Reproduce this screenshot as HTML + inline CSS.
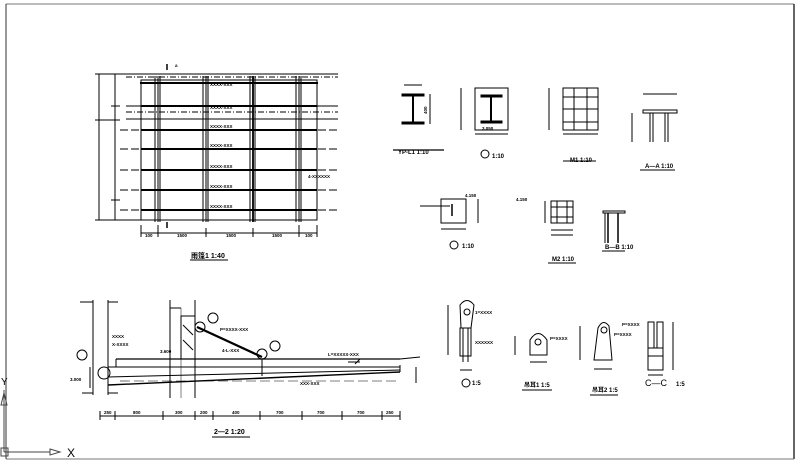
<!DOCTYPE html>
<html><head><meta charset="utf-8"><style>
html,body{margin:0;padding:0;background:#fff;}
svg{display:block;}
text{font-family:"Liberation Sans","Noto Sans CJK SC",sans-serif;fill:#000;font-weight:bold;}
</style></head><body>
<svg width="800" height="463" viewBox="0 0 800 463" xmlns="http://www.w3.org/2000/svg">
<g stroke="#000" fill="none" stroke-width="1">
<line x1="6" y1="4" x2="794" y2="4" stroke="#777"/>
<line x1="794" y1="4" x2="794" y2="459" stroke="#333" stroke-width="1.5"/>
<line x1="6" y1="459" x2="794" y2="459" stroke="#777"/>
<line x1="6" y1="4" x2="6" y2="459" stroke="#333"/>
<line x1="4" y1="390" x2="4" y2="452" stroke="#444"/>
<line x1="4" y1="452" x2="50" y2="452" stroke="#444"/>
<polygon points="1,405 4,393 7,405" stroke="#444"/>
<polygon points="50,449 60,452 50,455" stroke="#444"/>
<rect x="1" y="448" width="7" height="8" stroke="#444"/>
</g>
<text x="67" y="457" font-size="12" fill="#555" style="font-weight:normal">X</text>
<text x="1" y="385" font-size="10" fill="#555" style="font-weight:normal">Y</text>

<g stroke="#000" fill="none" stroke-width="1">
<line x1="126" y1="74" x2="338" y2="74"/>
<line x1="126" y1="77" x2="338" y2="77" stroke-dasharray="6,2,1,2"/>
<line x1="126" y1="106" x2="338" y2="106"/>
<line x1="126" y1="119" x2="338" y2="119"/>
<line x1="126" y1="112" x2="338" y2="112" stroke-dasharray="6,2,1,2"/>
<rect x="141" y="80" width="176" height="140"/>
<g stroke-width="2">
<line x1="140" y1="83" x2="318" y2="83"/>
<line x1="141" y1="106" x2="317" y2="106"/>
<line x1="141" y1="130" x2="317" y2="130"/>
<line x1="141" y1="149" x2="317" y2="149"/>
<line x1="141" y1="170" x2="317" y2="170"/>
<line x1="141" y1="190" x2="317" y2="190"/>
<line x1="141" y1="210" x2="317" y2="210"/>
</g>
<g>
<line x1="120" y1="130" x2="340" y2="130" stroke-dasharray="8,3"/>
<line x1="120" y1="149" x2="340" y2="149" stroke-dasharray="8,3"/>
<line x1="120" y1="170" x2="340" y2="170" stroke-dasharray="8,3"/>
<line x1="120" y1="190" x2="340" y2="190" stroke-dasharray="8,3"/>
<line x1="120" y1="210" x2="340" y2="210" stroke-dasharray="8,3"/>
</g>
<g stroke-width="1">
<line x1="155" y1="76" x2="155" y2="222"/><line x1="158" y1="76" x2="158" y2="222"/><line x1="160" y1="76" x2="160" y2="222"/>
<line x1="203" y1="76" x2="203" y2="222"/><line x1="206" y1="76" x2="206" y2="222"/><line x1="208" y1="76" x2="208" y2="222"/>
<line x1="250" y1="76" x2="250" y2="222"/><line x1="253" y1="76" x2="253" y2="222" stroke-width="1.8"/><line x1="255" y1="76" x2="255" y2="222"/>
<line x1="296" y1="76" x2="296" y2="222"/><line x1="299" y1="76" x2="299" y2="222"/><line x1="301" y1="76" x2="301" y2="222"/>
</g>
<line x1="99" y1="74" x2="99" y2="220"/><line x1="115" y1="74" x2="115" y2="220"/>
<line x1="95" y1="74" x2="135" y2="74"/><line x1="95" y1="120" x2="120" y2="120"/>
<line x1="95" y1="220" x2="141" y2="220"/><line x1="111" y1="106" x2="120" y2="106"/>
<line x1="111" y1="200" x2="120" y2="200"/>
<line x1="141" y1="233" x2="317" y2="233"/>
<line x1="141" y1="225" x2="141" y2="237"/><line x1="158" y1="225" x2="158" y2="237"/>
<line x1="206" y1="228" x2="206" y2="237"/><line x1="253" y1="228" x2="253" y2="237"/>
<line x1="299" y1="225" x2="299" y2="237"/><line x1="317" y1="225" x2="317" y2="237"/>
<line x1="167" y1="64" x2="167" y2="70" stroke-width="1.5"/>
<line x1="167" y1="222" x2="167" y2="228" stroke-width="1.5"/>
<line x1="190" y1="260" x2="228" y2="260"/>
</g>
<g font-size="4.5">
<text x="210" y="86">XXXX-XXX</text><text x="210" y="109">XXXX-XXX</text>
<text x="210" y="128">XXXX-XXX</text><text x="210" y="147">XXXX-XXX</text>
<text x="210" y="168">XXXX-XXX</text><text x="210" y="188">XXXX-XXX</text>
<text x="210" y="208">XXXX-XXX</text><text x="308" y="178">4-XXXXXX</text>
<text x="145" y="237">100</text><text x="177" y="237">1500</text><text x="226" y="237">1500</text><text x="272" y="237">1500</text><text x="305" y="237">100</text>
<text x="175" y="67">a</text>
</g>
<text x="191" y="258" font-size="7">雨篷1 1:40</text>

<g stroke="#000" fill="none" stroke-width="1">
<line x1="93" y1="300" x2="93" y2="395"/><line x1="108" y1="300" x2="108" y2="395"/>
<line x1="80" y1="302" x2="93" y2="302"/><line x1="108" y1="302" x2="118" y2="302"/>
<line x1="82" y1="393" x2="93" y2="393"/><line x1="108" y1="393" x2="118" y2="393"/>
<line x1="170" y1="300" x2="170" y2="398"/><line x1="195" y1="300" x2="195" y2="398"/>
<line x1="170" y1="308" x2="181" y2="308"/><line x1="181" y1="308" x2="181" y2="398" stroke-width="0.5"/>
<rect x="181" y="316" width="14" height="43"/>
<line x1="183" y1="325" x2="193" y2="335"/><line x1="183" y1="340" x2="193" y2="350"/>
<line x1="116" y1="359" x2="400" y2="359" stroke-width="1.2"/>
<line x1="116" y1="359" x2="116" y2="367"/>
<line x1="108" y1="367" x2="400" y2="367"/>
<line x1="108" y1="377" x2="400" y2="370"/>
<line x1="400" y1="365" x2="400" y2="372"/>
<line x1="108" y1="385" x2="400" y2="372" stroke-width="1.4"/>
<line x1="120" y1="381" x2="400" y2="381" stroke-dasharray="10,4" stroke-width="0.6"/>
<line x1="197" y1="327" x2="262" y2="357" stroke-width="2.2"/>
<circle cx="200" cy="327" r="5"/><circle cx="262" cy="354" r="5"/>
<circle cx="213" cy="318" r="5"/><circle cx="275" cy="346" r="5"/>
<circle cx="82" cy="355" r="5"/><circle cx="104" cy="373" r="6"/>
<line x1="262" y1="359" x2="262" y2="376"/><line x1="360" y1="359" x2="355" y2="364"/>
<line x1="348" y1="362" x2="360" y2="362"/>
<line x1="400" y1="359" x2="420" y2="357"/>
<line x1="416" y1="367" x2="416" y2="383"/>
<line x1="90" y1="367" x2="90" y2="388"/>
<line x1="100" y1="416" x2="400" y2="416"/>
<g>
<line x1="100" y1="411" x2="100" y2="420"/><line x1="115" y1="411" x2="115" y2="420"/>
<line x1="163" y1="411" x2="163" y2="420"/><line x1="195" y1="411" x2="195" y2="420"/>
<line x1="213" y1="411" x2="213" y2="420"/><line x1="260" y1="411" x2="260" y2="420"/>
<line x1="302" y1="411" x2="302" y2="420"/><line x1="342" y1="411" x2="342" y2="420"/>
<line x1="382" y1="411" x2="382" y2="420"/><line x1="400" y1="411" x2="400" y2="420"/>
</g>
<line x1="212" y1="437" x2="250" y2="437"/>
</g>
<g font-size="4.5">
<text x="104" y="414">250</text><text x="133" y="414">800</text><text x="175" y="414">300</text><text x="200" y="414">200</text>
<text x="232" y="414">400</text><text x="276" y="414">700</text><text x="317" y="414">700</text><text x="357" y="414">700</text><text x="386" y="414">250</text>
<text x="220" y="331">P=XXXX-XXX</text><text x="222" y="352">4-L-XXX</text>
<text x="328" y="356">L=XXXXX-XXX</text><text x="300" y="385">XXX-XXX</text>
<text x="70" y="381">3.000</text><text x="160" y="353">3.600</text>
<text x="112" y="338">XXXX</text><text x="112" y="346">X-XXXX</text>
</g>
<text x="214" y="434" font-size="7">2—2 1:20</text>

<g stroke="#000" fill="none" stroke-width="1">
<rect x="402" y="94" width="22" height="2" fill="#000"/><rect x="402" y="122" width="22" height="2" fill="#000"/>
<line x1="413" y1="96" x2="413" y2="122" stroke-width="2"/>
<line x1="404" y1="85" x2="422" y2="85"/><line x1="430" y1="94" x2="430" y2="124"/>
<line x1="393" y1="150" x2="444" y2="150" stroke-width="1.2"/>
<rect x="475" y="88" width="33" height="42"/>
<rect x="481" y="95" width="21" height="2" fill="#000"/><rect x="481" y="121" width="21" height="2" fill="#000"/>
<line x1="491" y1="97" x2="491" y2="121" stroke-width="2"/>
<line x1="461" y1="88" x2="461" y2="130"/><line x1="475" y1="134" x2="508" y2="134"/>
<circle cx="485" cy="154" r="4"/>
<rect x="563" y="88" width="35" height="42"/>
<line x1="574" y1="88" x2="574" y2="130"/><line x1="587" y1="88" x2="587" y2="130"/>
<line x1="563" y1="97" x2="598" y2="97"/><line x1="563" y1="109" x2="598" y2="109"/><line x1="563" y1="122" x2="598" y2="122"/>
<line x1="549" y1="88" x2="549" y2="130"/><line x1="563" y1="134" x2="598" y2="134"/>
<line x1="563" y1="161" x2="596" y2="161"/>
<rect x="643" y="110" width="34" height="3"/>
<line x1="650" y1="113" x2="650" y2="142"/><line x1="653" y1="113" x2="653" y2="142"/>
<line x1="665" y1="113" x2="665" y2="142"/><line x1="668" y1="113" x2="668" y2="142"/>
<line x1="632" y1="113" x2="632" y2="142"/><line x1="643" y1="94" x2="677" y2="94"/>
<line x1="640" y1="170" x2="675" y2="170"/>
<rect x="441" y="199" width="25" height="24"/>
<line x1="452" y1="204" x2="452" y2="216" stroke-width="1.5"/>
<line x1="420" y1="206" x2="450" y2="206"/><line x1="441" y1="229" x2="466" y2="229"/>
<line x1="478" y1="199" x2="478" y2="223"/>
<circle cx="454" cy="245" r="4"/>
<rect x="551" y="201" width="22" height="22"/>
<line x1="557" y1="201" x2="557" y2="223"/><line x1="567" y1="201" x2="567" y2="223"/>
<line x1="551" y1="207" x2="573" y2="207"/><line x1="551" y1="217" x2="573" y2="217"/>
<line x1="545" y1="201" x2="545" y2="223"/><line x1="551" y1="230" x2="573" y2="230"/><line x1="551" y1="235" x2="573" y2="235"/>
<line x1="548" y1="263" x2="576" y2="263"/>
<rect x="603" y="211" width="22" height="2"/>
<line x1="608" y1="213" x2="608" y2="243" stroke-width="1.5"/><line x1="618" y1="213" x2="618" y2="243" stroke-width="1.5"/>
<line x1="605" y1="213" x2="605" y2="243"/>
<line x1="602" y1="251" x2="625" y2="251"/>
</g>
<g font-size="4.5">
<text x="427" y="114" transform="rotate(-90 427 114)">400</text>
<text x="398" y="154" font-size="6">YP-L1 1:10</text>
<text x="492" y="158" font-size="6">1:10</text>
<text x="570" y="162" font-size="6">M1 1:10</text>
<text x="645" y="168" font-size="6">A—A 1:10</text>
<text x="462" y="248" font-size="6">1:10</text>
<text x="552" y="261" font-size="6">M2 1:10</text>
<text x="605" y="249" font-size="6">B—B 1:10</text>
<text x="482" y="130" font-size="4.5">3.050</text>
<text x="465" y="197">4.150</text><text x="516" y="201">4.150</text>
</g>

<g stroke="#000" fill="none" stroke-width="1">
<path d="M460,305 Q467,296 474,305 L471,328 L461,328 Z"/>
<circle cx="467" cy="312" r="3"/>
<rect x="460" y="328" width="11" height="28"/>
<line x1="463" y1="328" x2="463" y2="362"/><line x1="468" y1="328" x2="468" y2="362"/>
<line x1="448" y1="305" x2="448" y2="355"/><line x1="460" y1="370" x2="472" y2="370"/>
<circle cx="466" cy="383" r="4"/>
<path d="M530,355 L530,340 Q538,327 547,340 L547,355 Z"/>
<circle cx="538" cy="342" r="3"/>
<line x1="515" y1="336" x2="515" y2="355"/><line x1="530" y1="362" x2="547" y2="362"/>
<line x1="522" y1="390" x2="552" y2="390"/>
<path d="M594,360 L598,328 Q603,318 609,326 L612,360 Z"/>
<circle cx="604" cy="330" r="3"/>
<line x1="580" y1="326" x2="580" y2="360"/><line x1="594" y1="369" x2="612" y2="369"/>
<line x1="590" y1="395" x2="618" y2="395"/>
<rect x="648" y="322" width="6" height="26"/><rect x="657" y="322" width="6" height="26"/>
<rect x="648" y="348" width="15" height="22"/>
<line x1="648" y1="356" x2="663" y2="356"/>
<line x1="673" y1="322" x2="673" y2="370"/><line x1="648" y1="375" x2="663" y2="375"/>
</g>
<g font-size="4.5">
<text x="475" y="314">1=XXXX</text><text x="475" y="344">XXXXXX</text>
<text x="550" y="340">P=XXXX</text><text x="614" y="336">P=XXXX</text>
<text x="622" y="326">P=XXXX</text>
<text x="472" y="385" font-size="6">1:5</text>
<text x="524" y="387" font-size="6">吊耳1 1:5</text>
<text x="592" y="392" font-size="6">吊耳2 1:5</text>
</g>
<text x="645" y="386" font-size="9" style="font-weight:normal">C—C</text><text x="676" y="386" font-size="6">1:5</text>
</svg>
</body></html>
